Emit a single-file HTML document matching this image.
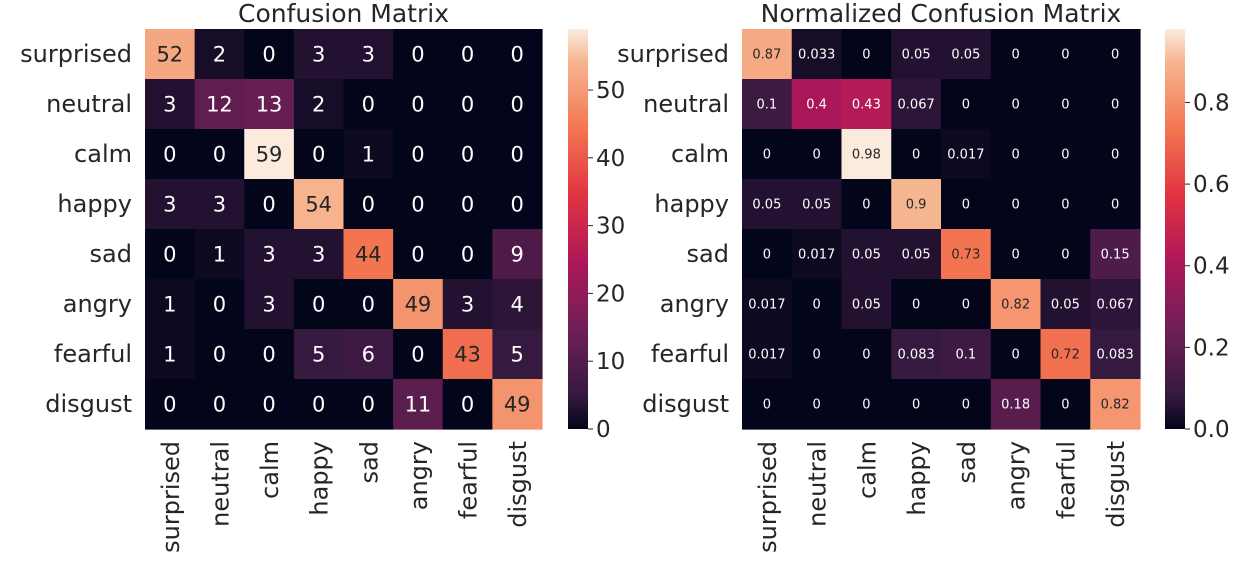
<!DOCTYPE html>
<html><head><meta charset="utf-8"><style>
body{margin:0;background:#fff;}
svg text{font-family:"DejaVu Sans","Liberation Sans",sans-serif;fill:#262626;}
</style></head><body>
<svg id="chart" width="1253" height="577" xmlns="http://www.w3.org/2000/svg">
<defs>
<linearGradient id="rocket" x1="0" y1="1" x2="0" y2="0">
<stop offset="0" stop-color="#03051a"/><stop offset="0.0833" stop-color="#35193e"/><stop offset="0.25" stop-color="#701f57"/><stop offset="0.4167" stop-color="#ad1759"/><stop offset="0.5833" stop-color="#e13342"/><stop offset="0.75" stop-color="#f37651"/><stop offset="0.9167" stop-color="#f6b48f"/><stop offset="1" stop-color="#faebdd"/>
</linearGradient>
</defs>
</svg>
<script>
const labels = ["surprised","neutral","calm","happy","sad","angry","fearful","disgust"];
const countValues = [
[52,2,0,3,3,0,0,0],
[3,12,13,2,0,0,0,0],
[0,0,59,0,1,0,0,0],
[3,3,0,54,0,0,0,0],
[0,1,3,3,44,0,0,9],
[1,0,3,0,0,49,3,4],
[1,0,0,5,6,0,43,5],
[0,0,0,0,0,11,0,49]];
const normValues = [
[0.87,0.033,0,0.05,0.05,0,0,0],
[0.1,0.4,0.43,0.067,0,0,0,0],
[0,0,0.98,0,0.017,0,0,0],
[0.05,0.05,0,0.9,0,0,0,0],
[0,0.017,0.05,0.05,0.73,0,0,0.15],
[0.017,0,0.05,0,0,0.82,0.05,0.067],
[0.017,0,0,0.083,0.1,0,0.72,0.083],
[0,0,0,0,0,0.18,0,0.82]];
const countTicks = [0,10,20,30,40,50];
const normTicks = [0,0.2,0.4,0.6,0.8];
const normTickLabels = ["0.0","0.2","0.4","0.6","0.8"];

const stops=[[0,3,5,26],[0.0833,53,25,62],[0.25,112,31,87],[0.4167,173,23,89],[0.5833,225,51,66],[0.75,243,118,81],[0.9167,246,180,143],[1,250,235,221]];
function cmap(t){t=Math.max(0,Math.min(1,t));for(let i=1;i<stops.length;i++){if(t<=stops[i][0]){const a=stops[i-1],b=stops[i],f=(t-a[0])/(b[0]-a[0]);return [1,2,3].map(k=>Math.round(a[k]+(b[k]-a[k])*f));}}return stops[stops.length-1].slice(1);}
const svg=document.getElementById('chart');const NS="http://www.w3.org/2000/svg";
function mk(tag,attrs,parent,txt){const e=document.createElementNS(NS,tag);for(const k in attrs)e.setAttribute(k,attrs[k]);if(txt!==undefined)e.textContent=txt;(parent||svg).appendChild(e);return e;}

function heatmap(cfg){
 const g=mk('g',{});
 
 
 const cw=(cfg.x1-cfg.x0)/8,ch=(cfg.y1-cfg.y0)/8;
 const t=mk('text',{x:(cfg.x0+cfg.x1)/2,y:cfg.y0-7,'text-anchor':'middle','font-size':25},g,cfg.title);
 
 
 cfg.data.forEach((row,i)=>row.forEach((v,j)=>{
  const c=cmap(v/cfg.vmax);
  const r=mk('rect',{x:cfg.x0+j*cw,y:cfg.y0+i*ch,width:cw+0.6,height:ch+0.6,fill:`rgb(${c})`},g);
  
  
  const lum=0.299*c[0]+0.587*c[1]+0.114*c[2];
  const tx=mk('text',{x:cfg.x0+(j+0.5)*cw,y:cfg.y0+(i+0.5)*ch+cfg.fs*0.36,'text-anchor':'middle','font-size':cfg.fs},g,String(v));
  tx.style.fill=lum>140?'#262626':'#ffffff';
  
  
 }));
 labels.forEach((l,i)=>{
  const y=mk('text',{x:cfg.x0-13,y:cfg.y0+(i+0.5)*ch+8,'text-anchor':'end','font-size':24},g,l);
  
  
  const cx=cfg.x0+(i+0.5)*cw;
  const x=mk('text',{x:0,y:0,'text-anchor':'end','font-size':24,transform:`translate(${cx+9},${cfg.y1+12}) rotate(-90)`},g,l);
  
  
 });
 const cb=mk('rect',{x:cfg.cbx,y:cfg.y0,width:20,height:cfg.y1-cfg.y0,fill:'url(#rocket)'},g);
 
 
 cfg.ticks.forEach((v,k)=>{
  const y=cfg.y1-(v/cfg.vmax)*(cfg.y1-cfg.y0);
  mk('line',{x1:cfg.cbx+20,x2:cfg.cbx+25,y1:y,y2:y,stroke:'#262626','stroke-width':1},g);
  const tl=mk('text',{x:cfg.cbx+28,y:y+8,'font-size':23},g,cfg.tickLabels[k]);
  
  
 });
}
heatmap({name:'confusion-matrix',title:'Confusion Matrix',data:countValues,vmax:59,x0:145,x1:542,y0:29,y1:429,fs:21,cbx:568,ticks:countTicks,tickLabels:countTicks.map(String)});
heatmap({name:'normalized-confusion-matrix',title:'Normalized Confusion Matrix',data:normValues,vmax:0.98,x0:742,x1:1140,y0:29,y1:429,fs:13,cbx:1165,ticks:normTicks,tickLabels:normTickLabels});
</script>
</body></html>
